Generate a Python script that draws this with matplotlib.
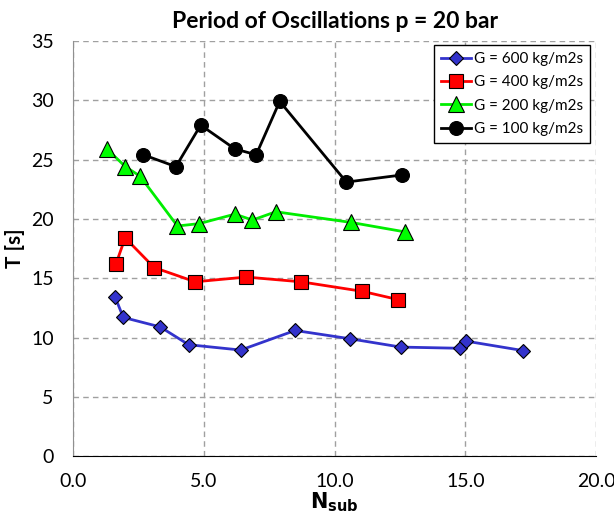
import matplotlib
matplotlib.use("Agg")
import matplotlib.pyplot as plt
from matplotlib.ticker import FormatStrFormatter, MultipleLocator

plt.rcParams["font.family"] = ["Lato", "DejaVu Sans"]

# G = 600 kg/m2s
n600 = [1.61, 1.92, 3.33, 4.42, 6.41, 8.49, 10.59, 12.53, 14.80, 15.03, 17.22]
t600 = [13.4, 11.7, 10.9, 9.4, 8.95, 10.6, 9.9, 9.2, 9.1, 9.7, 8.9]
# G = 400 kg/m2s
n400 = [1.64, 1.99, 3.10, 4.67, 6.62, 8.71, 11.05, 12.43]
t400 = [16.2, 18.4, 15.9, 14.7, 15.1, 14.7, 13.9, 13.2]
# G = 200 kg/m2s
n200 = [1.29, 2.00, 2.56, 3.99, 4.82, 6.19, 6.86, 7.75, 10.63, 12.70]
t200 = [25.9, 24.4, 23.6, 19.4, 19.6, 20.4, 19.9, 20.6, 19.7, 18.9]
# G = 100 kg/m2s
n100 = [2.69, 3.93, 4.88, 6.18, 7.00, 7.90, 10.45, 12.57]
t100 = [25.4, 24.4, 27.9, 25.9, 25.4, 29.9, 23.1, 23.7]

fig = plt.figure(figsize=(6.14, 5.2), dpi=100)
ax = fig.add_axes([0.119, 0.1225, 0.852, 0.799])

ax.plot(n600, t600, color="#3333CC", lw=2, marker="D", ms=7.5,
        mfc="#3333CC", mec="black", mew=0.8, label="G = 600 kg/m2s", zorder=4)
ax.plot(n400, t400, color="#FF0000", lw=2, marker="s", ms=9.5,
        mfc="#FF0000", mec="black", mew=0.8, label="G = 400 kg/m2s", zorder=4)
ax.plot(n200, t200, color="#00EE00", lw=2, marker="^", ms=11,
        mfc="#00FF00", mec="black", mew=0.8, label="G = 200 kg/m2s", zorder=4)
ax.plot(n100, t100, color="black", lw=2, marker="o", ms=10,
        mfc="black", mec="black", mew=0.8, label="G = 100 kg/m2s", zorder=4)

ax.set_xlim(0, 20)
ax.set_ylim(0, 35)
ax.xaxis.set_major_locator(MultipleLocator(5))
ax.yaxis.set_major_locator(MultipleLocator(5))
ax.xaxis.set_major_formatter(FormatStrFormatter("%.1f"))
ax.tick_params(length=0, labelsize=14, pad=12)
ax.tick_params(axis="y", pad=14)

ax.grid(True, color="#a0a0a0", linestyle=(0, (4, 3)), lw=1)
ax.spines["top"].set_visible(False)
ax.spines["right"].set_visible(False)
ax.spines["left"].set_color("#909090")
ax.spines["bottom"].set_color("black")

ax.set_title("Period of Oscillations p = 20 bar", fontsize=16.5, fontweight="bold", pad=9)
ax.set_xlabel(r"$\mathbf{N_{sub}}$", fontsize=15, labelpad=0)
ax.set_ylabel("T [s]", fontsize=15, fontweight="bold", labelpad=4)

leg = ax.legend(loc="upper right", bbox_to_anchor=(0.9885, 0.99), borderaxespad=0,
                fontsize=11, fancybox=False, framealpha=1, edgecolor="black",
                handlelength=2.0, borderpad=0.45, labelspacing=0.62, handletextpad=0.2)
leg.get_frame().set_linewidth(1)

fig.savefig("out.png", dpi=100)
